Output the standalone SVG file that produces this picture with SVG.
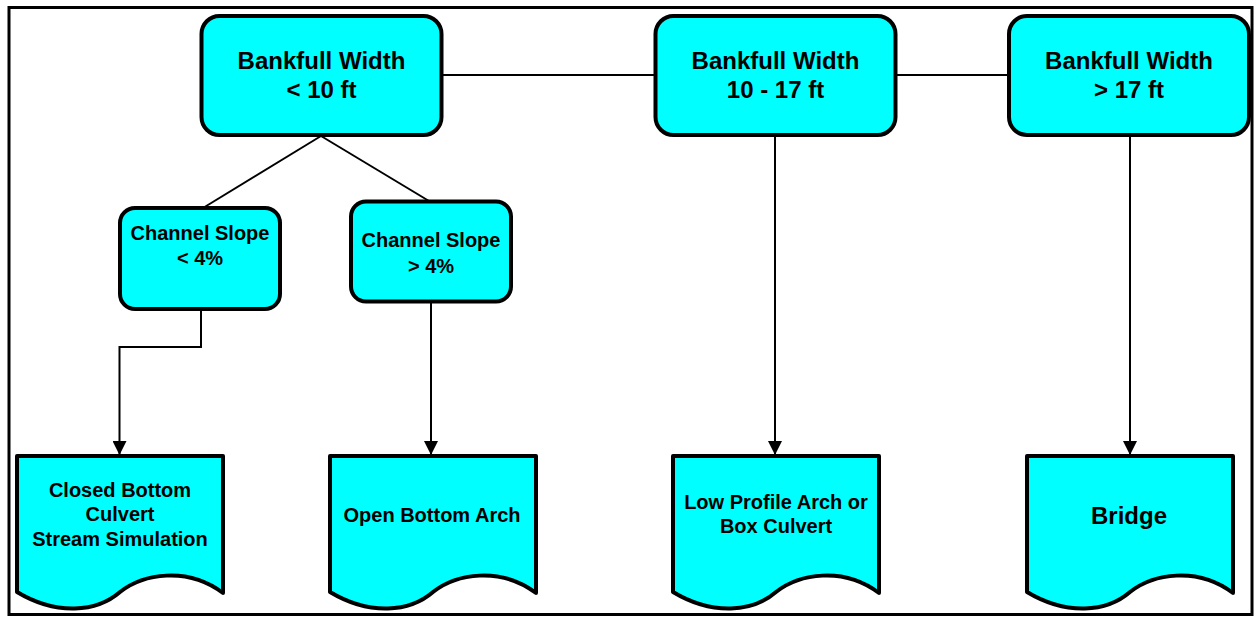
<svg xmlns="http://www.w3.org/2000/svg" width="1260" height="618" viewBox="0 0 1260 618">
<defs>
<style>
.box{fill:#00FFFF;stroke:#000;stroke-width:4}
.doc{fill:#00FFFF;stroke:#000;stroke-width:4;stroke-linejoin:round}
.con{fill:none;stroke:#000;stroke-width:2}
text{font-family:"Liberation Sans",Arial,sans-serif;font-weight:bold;fill:#000;text-anchor:middle}
.t24{font-size:24px}
.t20{font-size:20px}
</style>
<marker id="arr" markerWidth="14" markerHeight="14" refX="14" refY="7" orient="auto" markerUnits="userSpaceOnUse">
<path d="M0,0 L14,7 L0,14 Z" fill="#000"/>
</marker>
</defs>
<rect width="1260" height="618" fill="#fff"/>
<rect x="9" y="7.5" width="1243" height="607" fill="none" stroke="#000" stroke-width="3"/>
<g id="connectors">
<line class="con" x1="442" y1="75" x2="655" y2="75"/>
<line class="con" x1="896" y1="75" x2="1008" y2="75"/>
<line class="con" x1="321" y1="136" x2="203" y2="208"/>
<line class="con" x1="321" y1="136" x2="429" y2="201"/>
<polyline class="con" points="201,309 201,347 119.5,347 119.5,455" marker-end="url(#arr)"/>
<line class="con" x1="431" y1="302" x2="431" y2="455" marker-end="url(#arr)"/>
<line class="con" x1="775" y1="137" x2="775" y2="455" marker-end="url(#arr)"/>
<line class="con" x1="1130" y1="137" x2="1130" y2="455" marker-end="url(#arr)"/>
</g>
<g id="bw1">
<rect class="box" x="201.5" y="16" width="240" height="119" rx="18"/>
<text class="t24" x="321.5" y="69">Bankfull Width</text>
<text class="t24" x="321.5" y="98">&lt; 10 ft</text>
</g>
<g id="bw2">
<rect class="box" x="655.5" y="16" width="240" height="119" rx="18"/>
<text class="t24" x="775.5" y="69">Bankfull Width</text>
<text class="t24" x="775.5" y="98">10 - 17 ft</text>
</g>
<g id="bw3">
<rect class="box" x="1009" y="16" width="240" height="119" rx="18"/>
<text class="t24" x="1129" y="69">Bankfull Width</text>
<text class="t24" x="1129" y="98">&gt; 17 ft</text>
</g>
<g id="cs1">
<rect class="box" x="120" y="208" width="160" height="101" rx="15"/>
<text class="t20" x="200" y="240">Channel Slope</text>
<text class="t20" x="200" y="265">&lt; 4%</text>
</g>
<g id="cs2">
<rect class="box" x="351" y="201.5" width="160" height="100" rx="15"/>
<text class="t20" x="431" y="247">Channel Slope</text>
<text class="t20" x="431" y="273">&gt; 4%</text>
</g>
<g id="doc1">
<path class="doc" transform="translate(17,0)" d="M0,456 L206,456 L206,593 C170,566 126,574 103,592 C80,612 40,616 0,592 Z"/>
<text class="t20" x="120" y="497">Closed Bottom</text>
<text class="t20" x="120" y="521">Culvert</text>
<text class="t20" x="120" y="546">Stream Simulation</text>
</g>
<g id="doc2">
<path class="doc" transform="translate(330,0)" d="M0,456 L206,456 L206,593 C170,566 126,574 103,592 C80,612 40,616 0,592 Z"/>
<text class="t20" x="432" y="522">Open Bottom Arch</text>
</g>
<g id="doc3">
<path class="doc" transform="translate(673,0)" d="M0,456 L206,456 L206,593 C170,566 126,574 103,592 C80,612 40,616 0,592 Z"/>
<text class="t20" x="776" y="509">Low Profile Arch or</text>
<text class="t20" x="776" y="533">Box Culvert</text>
</g>
<g id="doc4">
<path class="doc" transform="translate(1027,0)" d="M0,456 L206,456 L206,593 C170,566 126,574 103,592 C80,612 40,616 0,592 Z"/>
<text class="t24" x="1129" y="524">Bridge</text>
</g>
</svg>
